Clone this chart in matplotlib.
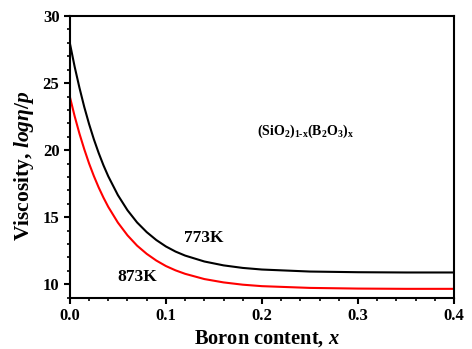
import matplotlib
matplotlib.use("Agg")
import matplotlib.pyplot as plt
from matplotlib.ticker import MultipleLocator

plt.rcParams['font.family'] = ['Liberation Serif', 'DejaVu Serif']
plt.rcParams['font.weight'] = 'bold'
plt.rcParams['axes.labelweight'] = 'bold'
plt.rcParams['mathtext.fontset'] = 'custom'
plt.rcParams['mathtext.rm'] = 'Liberation Serif:bold'
plt.rcParams['mathtext.it'] = 'Liberation Serif:italic:bold'
plt.rcParams['mathtext.bf'] = 'Liberation Serif:bold'

# boron content x and viscosity
boron_x = [0.0, 0.005, 0.01, 0.015, 0.02, 0.025, 0.03, 0.035, 0.04, 0.05,
           0.06, 0.07, 0.08, 0.09, 0.10, 0.11, 0.12, 0.14, 0.16, 0.18,
           0.20, 0.25, 0.30, 0.35, 0.40]
visc_773 = [27.98, 26.22, 24.65, 23.22, 21.95, 20.81, 19.79, 18.87, 18.05, 16.65,
            15.52, 14.61, 13.89, 13.30, 12.82, 12.44, 12.14, 11.70, 11.41, 11.22,
            11.10, 10.95, 10.90, 10.88, 10.88]
visc_873 = [23.98, 22.53, 21.23, 20.07, 19.01, 18.07, 17.22, 16.46, 15.77, 14.60,
            13.65, 12.88, 12.27, 11.77, 11.36, 11.04, 10.78, 10.39, 10.14, 9.97,
            9.86, 9.73, 9.68, 9.66, 9.66]

fig = plt.figure(figsize=(4.72, 3.49), dpi=100)
ax = fig.add_axes([0.148, 0.147, 0.814, 0.807])

ax.plot(boron_x, visc_773, color='black', lw=1.5)
ax.plot(boron_x, visc_873, color='red', lw=1.5)

ax.set_xlim(0, 0.4)
ax.set_ylim(9, 30)
ax.xaxis.set_major_locator(MultipleLocator(0.1))
ax.xaxis.set_minor_locator(MultipleLocator(0.02))
ax.yaxis.set_major_locator(MultipleLocator(5))
ax.yaxis.set_minor_locator(MultipleLocator(1))
ax.xaxis.set_major_formatter(lambda v, p: f'{v:.1f}')

for s in ax.spines.values():
    s.set_linewidth(1.5)
ax.tick_params(which='major', direction='out', length=4, width=1.5, labelsize=12)
ax.tick_params(which='minor', direction='out', length=2.2, width=1.2)

ax.set_xlabel('Boron content, $x$', fontsize=14.7, labelpad=3, x=0.513)
ax.set_ylabel(r'Viscosity, $log\eta/p$', fontsize=15.5, labelpad=5, y=0.4675)

ax.text(0.1396, 13.47, '773K', fontsize=12.5, ha='center', va='center')
ax.text(0.0703, 10.54, '873K', fontsize=12.5, ha='center', va='center')
ax.text(0.2456, 21.42, r'$\mathrm{(SiO_2)_{1\text{-}x}(B_2O_3)_x}$', fontsize=10,
        ha='center', va='center')

fig.savefig('out.png', dpi=100)
